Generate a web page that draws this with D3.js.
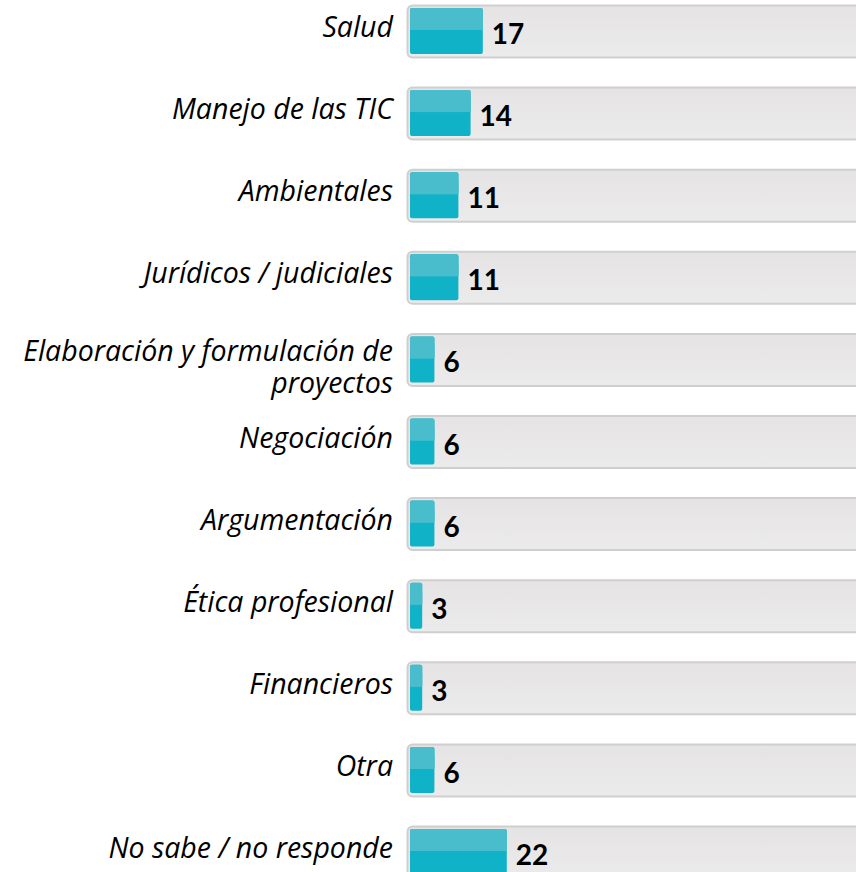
<!DOCTYPE html>
<html><head><meta charset="utf-8">
<script src="https://cdn.jsdelivr.net/npm/d3@7"></script>
<style>body{margin:0;background:#fff;}svg{display:block;}</style>
</head><body>
<script>
const categories = [
  ["Salud"],
  ["Manejo de las TIC"],
  ["Ambientales"],
  ["Jurídicos / judiciales"],
  ["Elaboración y formulación de","proyectos"],
  ["Negociación"],
  ["Argumentación"],
  ["Ética profesional"],
  ["Financieros"],
  ["Otra"],
  ["No sabe / no responde"]
];
const values = [16.7, 13.9, 11.1, 11.1, 5.6, 5.6, 5.6, 2.8, 2.8, 5.6, 22.2];
const valueLabels = ["17","14","11","11","6","6","6","3","3","6","22"];

const W = 856, H = 872;
const svg = d3.select("body").append("svg").attr("width", W).attr("height", H);

const defs = svg.append("defs");
const tg = defs.append("linearGradient").attr("id","trackGrad").attr("x1",0).attr("y1",0).attr("x2",0).attr("y2",1);
tg.append("stop").attr("offset","0%").attr("stop-color","#e5e3e3");
tg.append("stop").attr("offset","100%").attr("stop-color","#ecebeb");

const step = 82.1, top0 = 5, trackH = 52;
const y = d3.scaleBand().domain(d3.range(categories.length))
  .range([top0, top0 + step * categories.length]).paddingInner(0).paddingOuter(0);
const x = d3.scaleLinear().domain([0, 100]).range([410, 846]);

const rows = svg.selectAll("g.row").data(categories).join("g").attr("class","row")
  .attr("transform", (d,i) => `translate(0,${y(i)})`);

rows.append("rect").attr("x", 407.5).attr("y", 0.5).attr("width", 470).attr("height", trackH)
  .attr("rx", 5).attr("fill", "url(#trackGrad)").attr("stroke", "#cfcfcf").attr("stroke-width", 2);

rows.append("rect").attr("x", x(0)).attr("y", 3).attr("height", 46)
  .attr("width", (d,i) => x(values[i]) - x(0)).attr("rx", 2).attr("fill", "#10b2c8");
rows.append("rect").attr("x", x(0)).attr("y", 3).attr("height", 22)
  .attr("width", (d,i) => x(values[i]) - x(0)).attr("rx", 2).attr("fill", "#49bdcc");
rows.append("rect").attr("x", x(0)).attr("y", 12).attr("height", 13)
  .attr("width", (d,i) => x(values[i]) - x(0)).attr("fill", "#49bdcc");

rows.append("text").attr("x", (d,i) => x(values[i]) + 9).attr("y", trackH/2 + 13)
  .attr("font-family", "Lato, 'Open Sans', sans-serif").attr("font-weight", "bold")
  .attr("font-size", 28).attr("fill", "#000").text((d,i) => valueLabels[i]);

rows.each(function(d) {
  const t = d3.select(this).append("text").attr("text-anchor","end")
    .attr("font-family", "'Open Sans', sans-serif").attr("font-style","italic")
    .attr("font-size", 28.5).attr("fill", "#000");
  if (d.length === 1) {
    t.append("tspan").attr("x", 393).attr("y", trackH/2 + 6).text(d[0]);
  } else {
    d.forEach((line, k) => t.append("tspan").attr("x", 393).attr("y", trackH/2 + 1.5 + k*32).text(line));
  }
});
</script>
</body></html>
